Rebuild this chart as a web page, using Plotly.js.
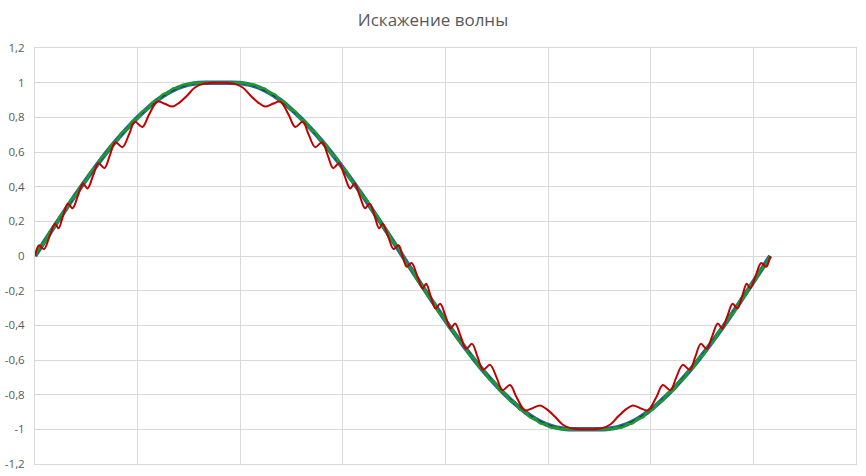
<!DOCTYPE html>
<html>
<head>
<meta charset="utf-8">
<script src="https://cdn.plot.ly/plotly-3.0.1.min.js"></script>
<style>html,body{margin:0;padding:0;background:#fff;}#chart{width:866px;height:476px;}</style>
</head>
<body>
<div id="chart"></div>
<script>
// Title and tick labels
const chartTitle = "Искажение волны";
const yTickValues = [-1.2, -1, -0.8, -0.6, -0.4, -0.2, 0, 0.2, 0.4, 0.6, 0.8, 1, 1.2];
const yTickLabels = ["-1,2", "-1", "-0,8", "-0,6", "-0,4", "-0,2", "0", "0,2", "0,4", "0,6", "0,8", "1", "1,2"];

// Blue series, every 5 degrees of phase (0..360)
const blueY = [
  0, 0.091, 0.181, 0.269, 0.356, 0.440, 0.520, 0.597, 0.669, 0.735, 0.797, 0.852, 0.901, 0.940, 0.970, 0.989, 0.998, 1, 1,
  1, 0.998, 0.989, 0.970, 0.940, 0.901, 0.852, 0.797, 0.735, 0.669, 0.597, 0.520, 0.440, 0.356, 0.269, 0.181, 0.091, 0,
  -0.091, -0.181, -0.269, -0.356, -0.440, -0.520, -0.597, -0.669, -0.735, -0.797, -0.852, -0.901, -0.940, -0.970, -0.989, -0.998, -1, -1,
  -1, -0.998, -0.989, -0.970, -0.940, -0.901, -0.852, -0.797, -0.735, -0.669, -0.597, -0.520, -0.440, -0.356, -0.269, -0.181, -0.091, 0
];
// Black reference series, every 5 degrees
const blackY = [
  0, 0.090, 0.180, 0.268, 0.354, 0.438, 0.518, 0.595, 0.667, 0.733, 0.795, 0.850, 0.899, 0.938, 0.968, 0.988, 0.998, 1, 1,
  1, 0.998, 0.988, 0.968, 0.938, 0.899, 0.850, 0.795, 0.733, 0.667, 0.595, 0.518, 0.438, 0.354, 0.268, 0.180, 0.090, 0,
  -0.090, -0.180, -0.268, -0.354, -0.438, -0.518, -0.595, -0.667, -0.733, -0.795, -0.850, -0.899, -0.938, -0.968, -0.988, -0.998, -1, -1,
  -1, -0.998, -0.988, -0.968, -0.938, -0.899, -0.850, -0.795, -0.733, -0.667, -0.595, -0.518, -0.438, -0.354, -0.268, -0.180, -0.090, 0
];

// Green series, every 2.5 degrees
const greenY = [
  0, 0.053, 0.085, 0.144, 0.175, 0.233, 0.263, 0.321, 0.350, 0.406, 0.434, 0.488, 0.514, 0.567, 0.591, 0.641, 0.663, 0.711, 0.729,
  0.775, 0.791, 0.833, 0.847, 0.886, 0.897, 0.932, 0.940, 0.966, 0.970, 0.988, 0.990, 0.998, 0.999, 1.0, 1.0, 1.0, 1.0,
  1.0, 1.0, 1.0, 0.999, 0.998, 0.990, 0.988, 0.970, 0.966, 0.940, 0.932, 0.897, 0.886, 0.847, 0.833, 0.791, 0.775, 0.729,
  0.711, 0.663, 0.641, 0.591, 0.567, 0.514, 0.488, 0.434, 0.406, 0.350, 0.321, 0.263, 0.233, 0.175, 0.144, 0.085, 0.053, 0,
  -0.053, -0.085, -0.144, -0.175, -0.233, -0.263, -0.321, -0.350, -0.406, -0.434, -0.488, -0.514, -0.567, -0.591, -0.641, -0.663, -0.711, -0.729,
  -0.775, -0.791, -0.833, -0.847, -0.886, -0.897, -0.932, -0.940, -0.966, -0.970, -0.988, -0.990, -0.998, -0.999, -1.0, -1.0, -1.0, -1.0,
  -1.0, -1.0, -1.0, -0.999, -0.998, -0.990, -0.988, -0.970, -0.966, -0.940, -0.932, -0.897, -0.886, -0.847, -0.833, -0.791, -0.775, -0.729,
  -0.711, -0.663, -0.641, -0.591, -0.567, -0.514, -0.488, -0.434, -0.406, -0.350, -0.321, -0.263, -0.233, -0.175, -0.144, -0.085, -0.053, 0
];

// Red (strongly distorted) series, read at its ripples
const redX = [
  0, 2.0, 4.4, 7.1, 9.8, 11.5, 13.7, 16.1, 18.4, 21.0, 23.5, 25.7, 28.4, 31.1, 34.0, 36.7, 39.4, 42.8, 46.0, 48.9,
  52.6, 55.8, 59.9, 63.6, 67.3, 70.7, 74.4, 78.3, 82.2, 86.1, 90,
  93.9, 97.8, 101.7, 105.6, 109.3, 112.7, 116.4, 120.1, 124.2, 127.4, 131.1, 134.0, 137.2, 140.6, 143.3, 146.0, 148.9,
  151.6, 154.3, 156.5, 159.0, 161.6, 163.9, 166.3, 168.5, 170.2, 172.9, 175.6, 178.0, 180,
  182.0, 184.4, 187.1, 189.8, 191.5, 193.7, 196.1, 198.4, 201.0, 203.5, 205.7, 208.4, 211.1, 214.0, 216.7, 219.4, 222.8, 226.0, 228.9,
  232.6, 235.8, 239.9, 243.6, 247.3, 250.7, 254.4, 258.3, 262.2, 266.1, 270,
  273.9, 277.8, 281.7, 285.6, 289.3, 292.7, 296.4, 300.1, 304.2, 307.4, 311.1, 314.0, 317.2, 320.6, 323.3, 326.0, 328.9,
  331.6, 334.3, 336.5, 339.0, 341.6, 343.9, 346.3, 348.5, 350.2, 352.9, 355.6, 358.0, 360
];
const redY = [
  0, 0.062, 0.040, 0.113, 0.186, 0.160, 0.230, 0.302, 0.276, 0.347, 0.418, 0.390, 0.462, 0.535, 0.507, 0.582, 0.656, 0.628, 0.700, 0.774,
  0.744, 0.815, 0.890, 0.878, 0.862, 0.885, 0.925, 0.972, 0.993, 0.999, 1.0,
  0.999, 0.993, 0.972, 0.925, 0.885, 0.862, 0.878, 0.890, 0.815, 0.744, 0.774, 0.700, 0.628, 0.656, 0.582, 0.507, 0.535,
  0.462, 0.390, 0.418, 0.347, 0.276, 0.302, 0.230, 0.160, 0.186, 0.113, 0.040, 0.062, 0,
  -0.062, -0.040, -0.113, -0.186, -0.160, -0.230, -0.302, -0.276, -0.347, -0.418, -0.390, -0.462, -0.535, -0.507, -0.582, -0.656, -0.628, -0.700, -0.774,
  -0.744, -0.815, -0.890, -0.878, -0.862, -0.885, -0.925, -0.972, -0.993, -0.999, -1.0,
  -0.999, -0.993, -0.972, -0.925, -0.885, -0.862, -0.878, -0.890, -0.815, -0.744, -0.774, -0.700, -0.628, -0.656, -0.582, -0.507, -0.535,
  -0.462, -0.390, -0.418, -0.347, -0.276, -0.302, -0.230, -0.160, -0.186, -0.113, -0.040, -0.062, 0
];

const traces = [
  {type: "scatter", mode: "lines", name: "Синус", y: blueY, x0: 0, dx: 5,
   line: {color: "#2a62a3", width: 4.5, shape: "spline", smoothing: 1}},
  {type: "scatter", mode: "lines", name: "Эталон", y: blackY, x0: 0, dx: 5,
   line: {color: "#111111", width: 1, shape: "spline", smoothing: 1}},
  {type: "scatter", mode: "lines", name: "Искажение 1", y: greenY, x0: 0, dx: 2.5,
   line: {color: "#1c9e22", width: 2.5, shape: "spline", smoothing: 1}},
  {type: "scatter", mode: "lines", name: "Искажение 2", x: redX, y: redY,
   line: {color: "#c00000", width: 2, shape: "spline", smoothing: 1}}
];

const layout = {
  width: 866, height: 476,
  margin: {l: 35, r: 10, t: 48, b: 12, pad: 0},
  paper_bgcolor: "#ffffff", plot_bgcolor: "#ffffff",
  showlegend: false,
  separators: ", ",
  title: {text: chartTitle, x: 0.5, xanchor: "center", y: 0.957, yanchor: "middle",
          font: {family: "Open Sans, sans-serif", size: 17, color: "#595959"}},
  xaxis: {range: [0, 402], tick0: 0, dtick: 50.25, showticklabels: false, ticks: "",
          showgrid: true, gridcolor: "#d9d9d9", gridwidth: 1, zeroline: false,
          showline: true, mirror: true, linecolor: "#d9d9d9", linewidth: 1},
  yaxis: {range: [-1.2, 1.2], tickmode: "array", tickvals: yTickValues, ticktext: yTickLabels,
          ticks: "", ticklabelstandoff: 7,
          tickfont: {family: "Open Sans, sans-serif", size: 11.5, color: "#595959"},
          showgrid: true, gridcolor: "#d9d9d9", gridwidth: 1, zeroline: false,
          showline: true, mirror: true, linecolor: "#d9d9d9", linewidth: 1}
};

Plotly.newPlot("chart", traces, layout, {displayModeBar: false, staticPlot: true});
</script>
</body>
</html>
